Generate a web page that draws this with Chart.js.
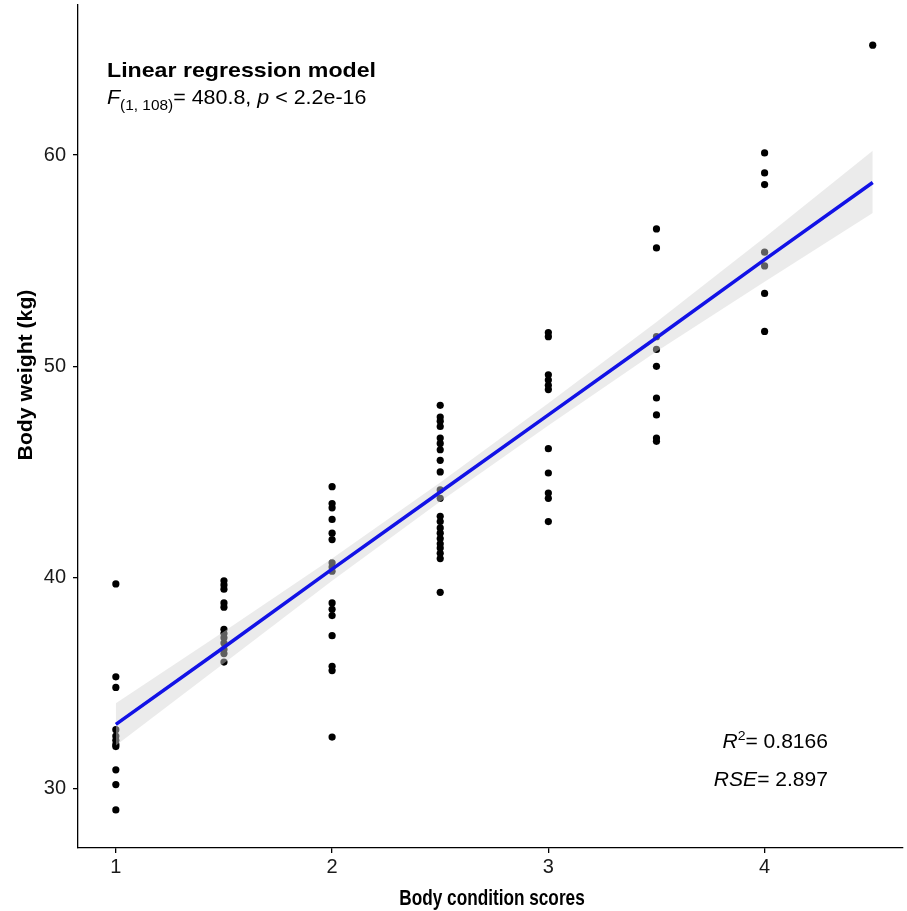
<!DOCTYPE html>
<html>
<head>
<meta charset="utf-8">
<script src="https://cdn.jsdelivr.net/npm/chart.js@4.4.1/dist/chart.umd.min.js"></script>
<style>
  body { margin: 0; background: #fff; }
  #wrap { width: 907px; height: 911px; }
</style>
</head>
<body>
<div id="wrap"><canvas id="chart" width="907" height="911"></canvas></div>
<script>
// body weight (kg) per body condition score
const bcsLevels = [1, 1.5, 2, 2.5, 3, 3.5, 4, 4.5];
const w10 = [39.7, 35.3, 34.8, 32.8, 32.5, 32.3, 32.1, 32.0, 30.9, 30.2, 29.0];
const w15 = [39.85, 39.65, 39.45, 38.8, 38.6, 37.55, 37.35, 37.15, 36.9, 36.6, 36.4, 36.0];
const w20 = [44.3, 43.5, 43.3, 42.75, 42.1, 41.8, 40.7, 40.5, 40.3, 38.8, 38.5, 38.2, 37.25, 35.8, 35.6, 32.45];
const w25 = [48.15, 47.6, 47.4, 47.15, 46.6, 46.35, 46.05, 45.55, 45.0, 44.15, 43.75, 42.9, 42.65, 42.35, 42.1, 41.85, 41.6, 41.4, 41.15, 40.9, 39.3];
const w30 = [51.6, 51.4, 49.6, 49.35, 49.1, 48.9, 46.1, 44.95, 44.0, 43.75, 42.65];
const w35 = [56.5, 55.6, 51.4, 50.8, 50.0, 48.5, 47.7, 46.6, 46.45];
const w40 = [60.1, 59.15, 58.6, 55.4, 54.75, 53.45, 51.65];
const w45 = [65.2];
const weightGroups = [w10, w15, w20, w25, w30, w35, w40, w45];

// fitted line and 95% band
const fitX = [1, 1.5, 2, 2.5, 3, 3.5, 4, 4.5];
const fitY = [33.05, 36.7, 40.4, 44.05, 47.7, 51.35, 55.05, 58.7];
const fitUpper = [34.05, 37.45, 40.9, 44.5, 48.25, 52.1, 56.1, 60.2];
const fitLower = [32.05, 35.95, 39.85, 43.6, 47.2, 50.7, 54.0, 57.25];

const xTicks = [1, 2, 3, 4];
const yTicks = [30, 40, 50, 60];

const points = [];
bcsLevels.forEach((b, i) => weightGroups[i].forEach(w => points.push({ x: b, y: w })));
const xy = (xs, ys) => xs.map((x, i) => ({ x: x, y: ys[i] }));

const FONT = "'Liberation Sans', Arial, sans-serif";

// draws a row of text pieces, squeezed/stretched horizontally by sx
function drawRuns(ctx, x, y, runs, align, sx) {
  sx = sx || 1;
  let total = 0;
  runs.forEach(r => { ctx.font = r.font; total += ctx.measureText(r.t).width; });
  ctx.save();
  ctx.translate(x, y);
  ctx.scale(sx, 1);
  let cx = align === 'right' ? -total : (align === 'center' ? -total / 2 : 0);
  ctx.textBaseline = 'alphabetic';
  ctx.textAlign = 'left';
  runs.forEach(r => {
    ctx.font = r.font;
    ctx.fillText(r.t, cx, r.dy || 0);
    cx += ctx.measureText(r.t).width;
  });
  ctx.restore();
}

const textPlugin = {
  id: 'annot',
  afterDraw(chart) {
    const ctx = chart.ctx;
    ctx.save();
    ctx.fillStyle = '#000';
    const reg = '19.5px ' + FONT, ita = 'italic 19.5px ' + FONT;
    drawRuns(ctx, 107, 77, [{ t: 'Linear regression model', font: 'bold 20.5px ' + FONT }], 'left', 1.13);
    drawRuns(ctx, 107, 103.5, [
      { t: 'F', font: ita },
      { t: '(1, 108)', font: '14px ' + FONT, dy: 6 },
      { t: '= 480.8, ', font: reg },
      { t: 'p', font: ita },
      { t: ' < 2.2e-16', font: reg }
    ], 'left', 1.1);
    drawRuns(ctx, 828, 748, [
      { t: 'R', font: ita },
      { t: '2', font: '13px ' + FONT, dy: -8 },
      { t: '= 0.8166', font: reg }
    ], 'right', 1.08);
    drawRuns(ctx, 828, 786, [
      { t: 'RSE', font: ita },
      { t: '= 2.897', font: reg }
    ], 'right', 1.08);
    // axis titles
    drawRuns(ctx, 492, 905, [{ t: 'Body condition scores', font: 'bold 21.5px ' + FONT }], 'center', 0.8);
    ctx.translate(32, 375);
    ctx.rotate(-Math.PI / 2);
    drawRuns(ctx, 0, 0, [{ t: 'Body weight (kg)', font: 'bold 20px ' + FONT }], 'center', 1.06);
    ctx.restore();
  }
};

new Chart(document.getElementById('chart'), {
  type: 'scatter',
  data: {
    datasets: [
      {
        type: 'line', data: xy(fitX, fitY), borderColor: '#1212E6', borderWidth: 3.5,
        pointRadius: 0, fill: false, tension: 0
      },
      {
        type: 'line', data: xy(fitX, fitUpper), borderWidth: 0, borderColor: 'rgba(0,0,0,0)',
        pointRadius: 0, fill: '+1', backgroundColor: 'rgba(211,211,211,0.45)', tension: 0
      },
      {
        type: 'line', data: xy(fitX, fitLower), borderWidth: 0, borderColor: 'rgba(0,0,0,0)',
        pointRadius: 0, fill: false, tension: 0
      },
      {
        data: points, pointRadius: 3.6, pointBackgroundColor: '#000', pointBorderWidth: 0
      }
    ]
  },
  options: {
    responsive: false,
    animation: false,
    layout: { padding: { top: 5, right: 0, left: 0, bottom: 0 } },
    plugins: { legend: { display: false }, tooltip: { enabled: false } },
    scales: {
      x: {
        type: 'linear', min: 0.825, max: 4.64,
        afterBuildTicks: a => { a.ticks = xTicks.map(v => ({ value: v })); },
        afterFit: s => { s.height = 63; s.paddingLeft = 0; s.paddingRight = 0; },
        border: { display: true, color: '#000', width: 1.3 },
        grid: { drawOnChartArea: false, drawTicks: true, tickLength: 5, color: '#000', lineWidth: 1.3 },
        ticks: { color: '#1a1a1a', font: { family: FONT, size: 20 }, padding: 2 }
      },
      y: {
        type: 'linear', min: 27.2, max: 67.1,
        afterBuildTicks: a => { a.ticks = yTicks.map(v => ({ value: v })); },
        afterFit: s => { s.width = 78; s.paddingTop = 0; s.paddingBottom = 0; },
        border: { display: true, color: '#000', width: 1.3 },
        grid: { drawOnChartArea: false, drawTicks: true, tickLength: 5, color: '#000', lineWidth: 1.3 },
        ticks: { color: '#1a1a1a', font: { family: FONT, size: 20 }, padding: 7 }
      }
    }
  },
  plugins: [textPlugin]
});
</script>
</body>
</html>
